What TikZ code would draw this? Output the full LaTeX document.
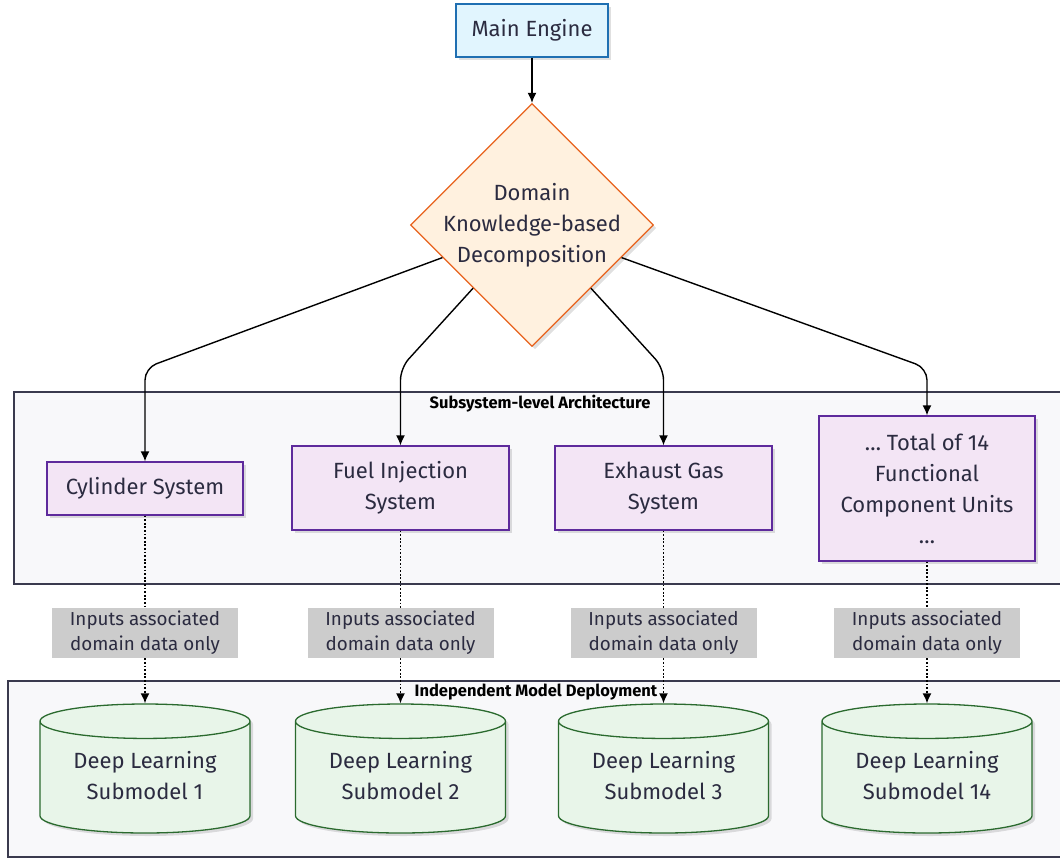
\documentclass[tikz,border=0pt]{standalone}
\usepackage{fontspec}
\setmainfont{Fira Sans}
\usetikzlibrary{shapes.geometric,arrows.meta,shadows,calc}
\definecolor{inkcol}{HTML}{2B2B40}
\definecolor{engfill}{HTML}{E1F5FE}
\definecolor{engdraw}{HTML}{1F6FB2}
\definecolor{decfill}{HTML}{FFF1DF}
\definecolor{decdraw}{HTML}{E8621C}
\definecolor{unitfill}{HTML}{F3E5F5}
\definecolor{unitdraw}{HTML}{5E2A9C}
\definecolor{subfill}{HTML}{E8F5E9}
\definecolor{subdraw}{HTML}{2A6A2E}
\definecolor{clfill}{HTML}{F8F8FA}
\definecolor{cldraw}{HTML}{3A3A4E}
\definecolor{notefill}{HTML}{CCCCCC}
\tikzset{
	softshadow/.style={drop shadow={shadow xshift=3pt,shadow yshift=-3pt,opacity=0.12,fill=black}},
	engine/.style={draw=engdraw,fill=engfill,line width=1.3pt,minimum width=152pt,minimum height=53pt,softshadow},
	decomp/.style={diamond,aspect=1,draw=decdraw,fill=decfill,line width=1.3pt,minimum width=243pt,minimum height=243pt,inner sep=-12pt,align=center,softshadow},
	unit/.style={draw=unitdraw,fill=unitfill,line width=1.3pt,align=center,softshadow},
	note/.style={fill=notefill,minimum width=186pt,minimum height=50pt,align=center,font=\fontsize{18.8}{25}\selectfont},
	submodel/.style={cylinder,shape border rotate=90,aspect=0.23,draw=subdraw,fill=subfill,line width=1.3pt,minimum width=210pt,minimum height=129pt,align=center,softshadow},
	cluster/.style={draw=cldraw,fill=clfill,line width=1.3pt},
	clustertitle/.style={font=\fontsize{16.5}{18}\selectfont\bfseries,text=black},
	flow/.style={->,line width=1.4pt,rounded corners=12pt},
	dotline/.style={line width=1.6pt,dash pattern=on 1.8pt off 1.8pt},
}
\begin{document}
\begin{tikzpicture}[x=1pt,y=-1pt,>={Latex[length=10pt,width=9pt]},font=\fontsize{22}{31}\selectfont,text=inkcol]
	\useasboundingbox (0,0) rectangle (1060,860);
	%clusters
	\draw[cluster] (14,392) rectangle (1070,584);
	\node[clustertitle] (subtitle) at (540,404) {Subsystem-level Architecture};
	\draw[cluster] (8,681) rectangle (1070,857);
	\node[clustertitle] (deptitle) at (536,692) {Independent Model Deployment};
	%top
	\node[engine] (engine) at (532,30.5) {Main Engine};
	\node[decomp] (dec) at (532,225) {Domain\\Knowledge-based\\Decomposition};
	\draw[->,line width=1.4pt] (engine) -- (dec);
	%subsystems
	\node[unit,minimum width=196pt,minimum height=53pt] (cyl) at (145,488.5) {Cylinder System};
	\node[unit,minimum width=217pt,minimum height=84pt] (fuel) at (400.5,488) {Fuel Injection\\System};
	\node[unit,minimum width=217pt,minimum height=84pt] (exh) at (663.5,488) {Exhaust Gas\\System};
	\node[unit,minimum width=216pt,minimum height=145pt] (total) at (927,488.5) {\dots\ Total of 14\\Functional\\Component Units\\\dots};
	\coordinate (bend) at (0,368);
	\draw[flow] (dec.200) -- (cyl.north |- bend) -- (cyl.north);
	\draw[flow] (dec.227) -- (fuel.north |- bend) -- (fuel.north);
	\draw[flow] (dec.313) -- (exh.north |- bend) -- (exh.north);
	\draw[flow] (dec.340) -- (total.north |- bend) -- (total.north);
	%submodels
	\foreach \x/\src/\k/\n in {145/cyl/1/1, 400.5/fuel/2/2, 663.5/exh/3/3, 927/total/4/14} {
		\node[note] (in\k) at (\x,633) {Inputs associated\\domain data only};
		\node[submodel,anchor=shape center] (dl\k) at (\x,768.5) {Deep Learning\\Submodel \n\rule[-8pt]{0pt}{8pt}};
		\draw[dotline] (\src) -- (in\k);
		\draw[dotline,->] (in\k) -- (dl\k.north);
	}
\end{tikzpicture}
\end{document}
